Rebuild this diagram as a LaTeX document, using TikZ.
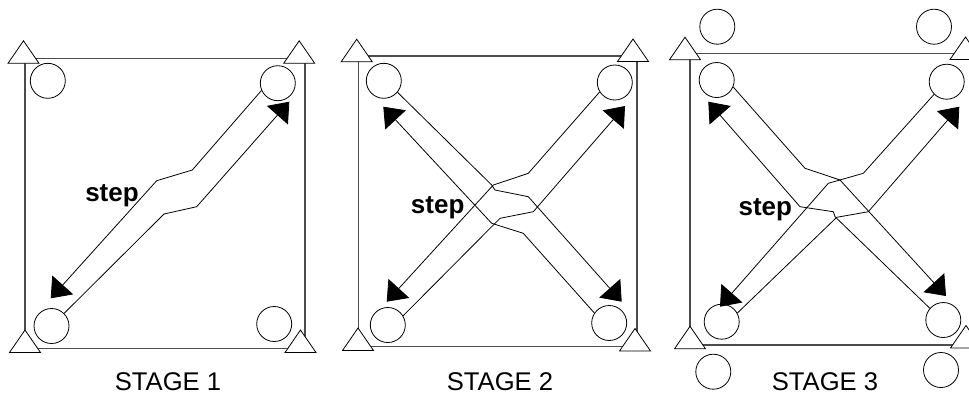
\documentclass[tikz,border=0pt]{standalone}
\usepackage{fontspec}
\setmainfont{Liberation Sans}
\usetikzlibrary{arrows.meta}
\newcommand\supporttri[2]{\draw[support] (#1,#2) -- ++(-15.5,22.5) -- ++(31,0) -- cycle;}
\begin{document}
\begin{tikzpicture}[x=0.75pt,y=-0.75pt,
  frameline/.style={draw=black!70,line width=1.1pt},
  support/.style={draw=black,fill=white,line width=0.6pt,line join=miter},
  joint/.style={circle,draw=black,fill=white,line width=0.6pt,minimum size=26.25pt,inner sep=0pt},
  flow/.style={draw=black,line width=0.6pt,-{Triangle[length=13.5pt,width=21pt]}},
  steplabel/.style={font=\fontsize{19.5}{20}\selectfont\bfseries,inner sep=0pt,anchor=base west},
  stagelabel/.style={font=\fontsize{19.2}{20}\selectfont,inner sep=0pt,anchor=base}]
\useasboundingbox (0,0) rectangle (969,394);

% ---------------- STAGE 1 ----------------
\draw[frameline] (25,58.3) rectangle (305,348.7);
\supporttri{23.5}{40.8}
\supporttri{299.2}{40.8}
\supporttri{25}{330}
\supporttri{300.5}{330}
\node[joint] (s1tl) at (47.8,80.8) {};
\node[joint] (s1tr) at (277.8,83.2) {};
\node[joint] (s1bl) at (51.5,326) {};
\node[joint] (s1br) at (274.2,324) {};
\coordinate (s1tipbl) at (50.7,298.3);
\coordinate (s1tiptr) at (289.3,101.7);
\draw[flow] (s1tr.204) -- (192.3,170) -- (156.7,180.7) -- (s1tipbl);
\draw[flow] (s1bl.45) -- (164,214) -- (196.7,206.7) -- (s1tiptr);
\node[steplabel] (step1) at (85,201.5) {step};
\node[stagelabel] (stage1) at (168,390) {STAGE 1};

% ---------------- STAGE 2 ----------------
\draw[frameline] (358.3,56) rectangle (637,346.7);
\supporttri{356.7}{39.2}
\supporttri{633}{39}
\supporttri{358}{328}
\supporttri{635}{328.5}
\node[joint] (s2tl) at (383.8,80.8) {};
\node[joint] (s2tr) at (614.8,82.5) {};
\node[joint] (s2bl) at (387.8,325) {};
\node[joint] (s2br) at (609.2,323) {};
\coordinate (s2tipbl) at (386.7,301.7);
\coordinate (s2tiptr) at (625,106);
\coordinate (s2tipbr) at (621.7,301.7);
\coordinate (s2tiptl) at (383.3,106.7);
\draw[flow] (s2tr.212) -- (528.3,173.3) -- (493.3,185) -- (s2tipbl);
\draw[flow] (s2bl.31) -- (500,218.3) -- (533.3,211.7) -- (s2tiptr);
\draw[flow] (s2tl.320) -- (491.7,185) -- (495,190) -- (528.3,196.7) -- (s2tipbr);
\draw[flow] (s2br.146) -- (523.3,233.3) -- (491.7,223.3) -- (s2tiptl);
\node[steplabel] (step2) at (410.7,213.3) {step};
\node[stagelabel] (stage2) at (500,390) {STAGE 2};

% ---------------- STAGE 3 ----------------
\draw[frameline] (690,53.3) rectangle (971,345);
\supporttri{685}{37.2}
\supporttri{965.5}{37}
\supporttri{690}{326.3}
\supporttri{966}{325.5}
\node[joint] (s3outtl) at (717.3,26.7) {};
\node[joint] (s3outtr) at (934,26.7) {};
\node[joint] (s3outbl) at (713.3,371.7) {};
\node[joint] (s3outbr) at (941,370) {};
\node[joint] (s3tl) at (716.7,80) {};
\node[joint] (s3tr) at (946.7,81.7) {};
\node[joint] (s3bl) at (721.7,321.7) {};
\node[joint] (s3br) at (943.3,320) {};
\coordinate (s3tipbl) at (720,306.7);
\coordinate (s3tiptr) at (959.3,106.7);
\coordinate (s3tipbr) at (946,296);
\coordinate (s3tiptl) at (708.3,101.7);
\draw[flow] (s3tr.225) -- (863.3,173.3) -- (828.3,183.3) -- (s3tipbl);
\draw[flow] (s3bl.29) -- (836.7,217.3) -- (868.3,211.7) -- (s3tiptr);
\draw[flow] (s3tl.337) -- (805,168.3) -- (840,180) -- (s3tipbr);
\draw[flow] (s3br.139) -- (835,216.7) -- (833.3,211.7) -- (800,206.7) -- (s3tiptl);
\node[steplabel] (step3) at (738.3,215) {step};
\node[stagelabel] (stage3) at (825,390) {STAGE 3};
\end{tikzpicture}
\end{document}
